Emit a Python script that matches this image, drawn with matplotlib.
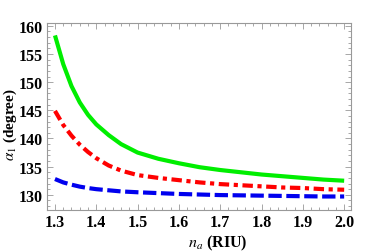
import matplotlib
matplotlib.use("Agg")
import matplotlib.pyplot as plt
from matplotlib.ticker import MultipleLocator, FormatStrFormatter

plt.rcParams['font.family'] = ['Liberation Serif', 'DejaVu Serif']
plt.rcParams['mathtext.fontset'] = 'stix'

n_a = [1.30, 1.32, 1.34, 1.36, 1.38, 1.40, 1.43, 1.46, 1.50, 1.55, 1.60, 1.65, 1.70, 1.75, 1.80, 1.85, 1.90, 1.95, 2.00]
green = [158.3, 153.2, 149.3, 146.4, 144.2, 142.5, 140.6, 139.0, 137.5, 136.4, 135.6, 134.9, 134.4, 134.0, 133.6, 133.3, 133.0, 132.7, 132.5]
red = [144.9, 142.4, 140.5, 138.9, 137.6, 136.5, 135.2, 134.3, 133.5, 133.0, 132.6, 132.2, 131.9, 131.7, 131.5, 131.3, 131.2, 131.0, 130.9]
blue = [132.8, 132.2, 131.8, 131.45, 131.2, 131.0, 130.8, 130.6, 130.45, 130.3, 130.15, 130.05, 129.95, 129.9, 129.85, 129.8, 129.75, 129.7, 129.7]

fig = plt.figure(figsize=(3.74, 2.53), dpi=100)
ax = fig.add_axes([0.126, 0.166, 0.813, 0.739])

ax.plot(n_a, green, color='#00ee00', lw=3.0, solid_capstyle='butt')
ax.plot(n_a, red, color='#ff0000', lw=3.0, dashes=(2.5, 1.1, 1.0, 1.1))
ax.plot(n_a, blue, color='#0000ee', lw=3.0, dashes=(3.2, 1.1))

ax.set_xlim(1.281, 2.017)
ax.set_ylim(127.3, 160.5)
ax.xaxis.set_major_locator(MultipleLocator(0.1))
ax.xaxis.set_minor_locator(MultipleLocator(0.02))
ax.yaxis.set_major_locator(MultipleLocator(5))
ax.yaxis.set_minor_locator(MultipleLocator(1))
ax.xaxis.set_major_formatter(FormatStrFormatter('%.1f'))

for s in ax.spines.values():
    s.set_color('#999999')
    s.set_linewidth(0.8)
ax.tick_params(which='both', direction='in', top=True, right=True, color='#999999', width=0.6)
ax.tick_params(which='major', length=4, labelsize=11.5, pad=3)
ax.tick_params(which='minor', length=2)
for lab in ax.get_xticklabels() + ax.get_yticklabels():
    lab.set_fontweight('bold')

ax.set_xlabel(r'$n_a$ (RIU)', fontsize=11.5, fontweight='bold')
ax.set_ylabel(r'$\alpha_1$ (degree)', fontsize=11, fontweight='bold')
ax.xaxis.set_label_coords(0.56, -0.12)
ax.yaxis.set_label_coords(-0.092, 0.46)

fig.savefig('out.png', dpi=100)
